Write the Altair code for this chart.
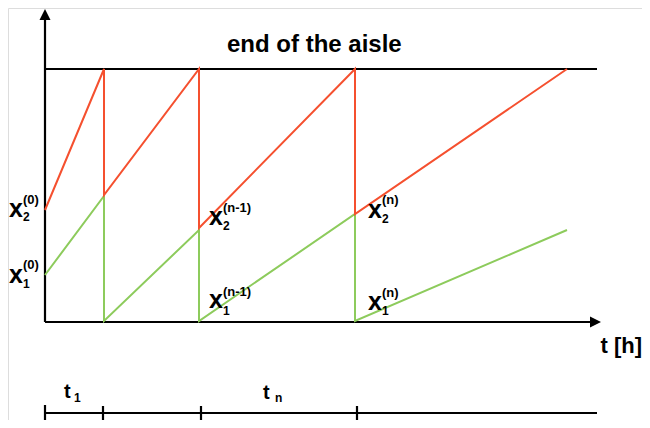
import altair as alt
import pandas as pd

FONT = "Liberation Sans"
RED = "#f5502f"
GREEN = "#8dcb5c"

# Sawtooth curves (coordinates in picture units: x to the right, y downward)
red_x = [45, 104, 104, 199, 199, 355, 355, 567]
red_y = [210, 69, 195, 69, 228, 69, 214, 69]
green_x = [45, 104, 104, 199, 199, 355, 355, 567]
green_y = [275, 196, 321, 230, 321, 214, 321, 230]

# Black line segments: axes, end of aisle line, time line and its ticks
seg_x1 = [45, 45, 45, 45, 45, 103, 201, 357]
seg_y1 = [16, 322, 69, 413, 405, 406, 406, 406]
seg_x2 = [45, 594, 597, 597, 45, 103, 201, 357]
seg_y2 = [322, 322, 69, 413, 423, 422, 422, 422]

# Arrow heads
arrow_up_x, arrow_up_y = [45], [9]
arrow_right_x, arrow_right_y = [601], [322]

# Main labels (x, baseline y, text)
lbl_x = [9, 9, 209, 209, 368, 368]
lbl_y = [217, 283, 225, 308, 218, 310]
lbl_t = ["x", "x", "x", "x", "x", "x"]
sub_x = [23, 23, 223, 223, 382, 382]
sub_y = [221, 288, 230, 315, 223, 315]
sub_t = ["2", "1", "2", "1", "2", "1"]
sup_x = [23, 23, 223, 223, 382, 382]
sup_y = [204, 269, 212, 296, 204, 297]
sup_t = ["(0)", "(0)", "(n-1)", "(n-1)", "(n)", "(n)"]

t_x = [64, 263]
t_y = [398, 399]
t_t = ["t", "t"]
tsub_x = [74, 275]
tsub_y = [402, 402]
tsub_t = ["1", "n"]

title_x, title_y, title_t = [227], [52], ["end of the aisle"]
axis_lbl_x, axis_lbl_y, axis_lbl_t = [642], [353], ["t [h]"]

xs = alt.Scale(domain=[8, 642], zero=False, nice=False)
ys = alt.Scale(domain=[8, 420], zero=False, nice=False, reverse=True)


def X(f="x"):
    return alt.X(f"{f}:Q", scale=xs, axis=None)


def Y(f="y"):
    return alt.Y(f"{f}:Q", scale=ys, axis=None)


segs = pd.DataFrame({"x": seg_x1, "y": seg_y1, "x2": seg_x2, "y2": seg_y2})
black = alt.Chart(segs).mark_rule(color="black", strokeWidth=2.2).encode(
    x=X(), y=Y(), x2="x2:Q", y2="y2:Q"
)

red_df = pd.DataFrame({"x": red_x, "y": red_y, "o": list(range(len(red_x)))})
green_df = pd.DataFrame({"x": green_x, "y": green_y, "o": list(range(len(green_x)))})
green = alt.Chart(green_df).mark_line(color=GREEN, strokeWidth=2).encode(
    x=X(), y=Y(), order="o:Q"
)
red = alt.Chart(red_df).mark_line(color=RED, strokeWidth=2).encode(
    x=X(), y=Y(), order="o:Q"
)

up = alt.Chart(pd.DataFrame({"x": arrow_up_x, "y": arrow_up_y})).mark_point(
    shape="M0,0L1,2L-1,2Z", size=121, filled=True, color="black", opacity=1
).encode(x=X(), y=Y())
right = alt.Chart(pd.DataFrame({"x": arrow_right_x, "y": arrow_right_y})).mark_point(
    shape="M0,0L-2,-1L-2,1Z", size=121, filled=True, color="black", opacity=1
).encode(x=X(), y=Y())


def text_layer(xv, yv, tv, size, align="left"):
    df = pd.DataFrame({"x": xv, "y": yv, "t": tv})
    return alt.Chart(df).mark_text(
        font=FONT, fontWeight="bold", fontSize=size, align=align,
        baseline="alphabetic", color="black"
    ).encode(x=X(), y=Y(), text="t:N")


labels = text_layer(lbl_x, lbl_y, lbl_t, 25)
subs = text_layer(sub_x, sub_y, sub_t, 12)
sups = text_layer(sup_x, sup_y, sup_t, 13)
ts = text_layer(t_x, t_y, t_t, 20)
tsubs = text_layer(tsub_x, tsub_y, tsub_t, 12)
title = text_layer(title_x, title_y, title_t, 24)
axis_lbl = text_layer(axis_lbl_x, axis_lbl_y, axis_lbl_t, 22, align="right")

chart = alt.layer(
    black, green, red, up, right, labels, subs, sups, ts, tsubs, title, axis_lbl
).properties(
    width=634, height=412, autosize=alt.AutoSizeParams(type="none"), padding=0
).configure_view(stroke=None).configure(background="white")

chart.save("out.html", embed_options={"renderer": "svg", "actions": False})
